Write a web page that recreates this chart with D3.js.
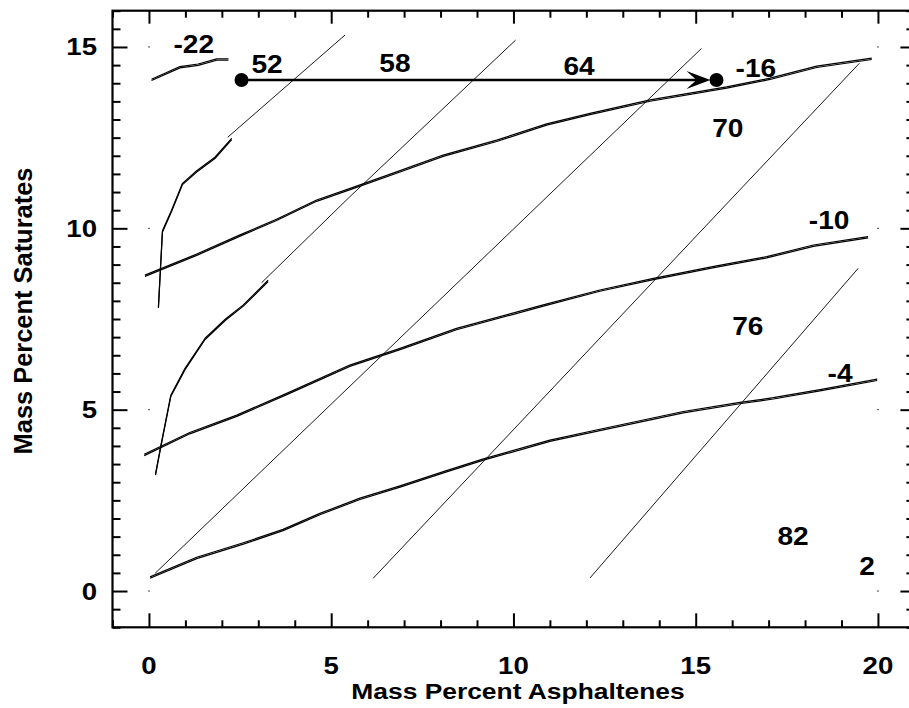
<!DOCTYPE html>
<html>
<head>
<meta charset="utf-8">
<script src="https://cdnjs.cloudflare.com/ajax/libs/d3/7.8.5/d3.min.js"></script>
<style>
  body { margin: 0; background: #fff; }
  text { font-family: "Liberation Sans", Arial, sans-serif; font-weight: bold; fill: #000; }
</style>
</head>
<body>
<script>

// curves, [asphaltenes, saturates]
var curveM22 = [[0.07,14.11],[0.85,14.46],[1.35,14.53],[1.86,14.67],[2.18,14.67]];
var curveM16 = [[-0.11,8.71],[1.31,9.29],[2.5,9.82],[3.5,10.25],[4.6,10.78],[5.6,11.13],[6.89,11.59],
                [8.07,12.02],[9.54,12.43],[10.91,12.88],[12.1,13.17],[13.75,13.54],[15.85,13.9],
                [17.04,14.14],[18.32,14.47],[19.83,14.69]];
var curveM10 = [[-0.13,3.77],[1.12,4.37],[2.41,4.85],[3.78,5.45],[5.51,6.23],[6.89,6.69],[8.44,7.24],
                [10.82,7.89],[12.37,8.3],[13.84,8.62],[15.5,8.95],[16.95,9.22],[18.23,9.54],[19.73,9.77]];
var curveM4 = [[0.03,0.39],[1.31,0.93],[2.59,1.33],[3.68,1.7],[4.69,2.14],[5.79,2.56],[6.89,2.9],
               [8.1,3.3],[9.2,3.65],[11.0,4.16],[12.37,4.46],[14.66,4.95],[16.21,5.2],[17.13,5.33],
               [18.45,5.56],[19.98,5.84]];
var steepUpper = [[0.26,7.84],[0.37,9.93],[0.62,10.5],[0.92,11.24],[1.31,11.59],[1.81,11.96],[2.27,12.48]];
var steepLower = [[0.18,3.23],[0.33,4.03],[0.6,5.4],[0.99,6.14],[1.54,6.97],[2.1,7.5],[2.59,7.89],[3.27,8.57]];

// straight iso lines, start and end
var isoLines = [
  [[2.16,12.51],[5.38,15.33]],
  [[3.09,8.5],[5.51,10.87],[10.06,15.19]],
  [[0.17,0.49],[15.16,14.96]],
  [[6.15,0.35],[19.49,14.55]],
  [[12.1,0.36],[19.46,8.9]]
];

// arrow between the two dots
var arrowFrom = [2.54,14.09];
var arrowTo = [15.57,14.09];

var labels = ['-22','52','58','64','-16','70','-10','76','-4','82','2'];
var labelX = [1.23,3.24,6.75,11.8,16.65,15.88,18.66,16.43,18.96,17.67,19.7];
var labelY = [14.83,14.28,14.31,14.23,14.17,12.52,9.98,7.06,5.76,1.27,0.44];

var xTicks = [0,5,10,15,20];
var yTicks = [0,5,10,15];

var W = 909, H = 708;
var svg = d3.select('body').append('svg')
            .attr('width', W)
            .attr('height', H);

var xScale = d3.scaleLinear().domain([-1,21]).range([112.5, 914.4]);
var yScale = d3.scaleLinear().domain([-1,16]).range([627.3, 10.7]);

var line = d3.line()
             .x(function(d) { return xScale(d[0]); })
             .y(function(d) { return yScale(d[1]); });

var plot = svg.append('g');

// thin iso lines
plot.selectAll('.iso')
    .data(isoLines)
    .enter()
    .append('path')
    .attr('class', 'iso')
    .attr('d', line)
    .attr('fill', 'none')
    .attr('stroke', '#000')
    .attr('stroke-width', 0.9);

// the curves are drawn doubled, like in the original
var curves = [curveM22, curveM16, curveM10, curveM4, steepUpper, steepLower];
[0, 1.3].forEach(function(off) {
  plot.append('g')
      .attr('transform', 'translate(0,' + off + ')')
      .selectAll('path')
      .data(curves)
      .enter()
      .append('path')
      .attr('d', line)
      .attr('fill', 'none')
      .attr('stroke', '#000')
      .attr('stroke-width', 1.2)
      .attr('stroke-linejoin', 'round');
});

// arrow
var ax0 = xScale(arrowFrom[0]), ax1 = xScale(arrowTo[0]), ay = yScale(arrowFrom[1]);
plot.append('line')
    .attr('x1', ax0).attr('y1', ay)
    .attr('x2', ax1 - 20).attr('y2', ay)
    .attr('stroke', '#000')
    .attr('stroke-width', 2.5);
plot.append('path')
    .attr('d', 'M' + (ax1 - 6) + ',' + ay +
               'L' + (ax1 - 30) + ',' + (ay - 9) +
               'L' + (ax1 - 20) + ',' + ay +
               'L' + (ax1 - 30) + ',' + (ay + 9) + 'Z')
    .attr('fill', '#000');
plot.selectAll('.dot')
    .data([arrowFrom, arrowTo])
    .enter()
    .append('circle')
    .attr('class', 'dot')
    .attr('cx', function(d) { return xScale(d[0]); })
    .attr('cy', function(d) { return yScale(d[1]); })
    .attr('r', 7)
    .attr('fill', '#000');

// region / temperature labels
plot.selectAll('.lab')
    .data(labels)
    .enter()
    .append('text')
    .attr('class', 'lab')
    .attr('text-anchor', 'middle')
    .attr('font-size', 26)
    .attr('transform', function(d, i) {
      return 'translate(' + xScale(labelX[i]) + ',' + yScale(labelY[i]) + ')scale(1.08,1)';
    })
    .text(function(d) { return d; });

// little grid dots at the major intersections
var gridPts = [];
[0,20].forEach(function(x) { yTicks.forEach(function(y) { gridPts.push([x,y]); }); });
plot.selectAll('.gdot')
    .data(gridPts)
    .enter()
    .append('rect')
    .attr('class', 'gdot')
    .attr('x', function(d) { return xScale(d[0]) - 1; })
    .attr('y', function(d) { return yScale(d[1]) - 0.5; })
    .attr('width', 2)
    .attr('height', 1)
    .attr('fill', '#444');

// axes, ticks pointing inward on all four sides
var x0 = xScale.range()[0], x1 = xScale.range()[1];
var y0 = yScale.range()[0], y1 = yScale.range()[1];

function drawAxis(axis, pos, minor) {
  var g = svg.append('g')
             .attr('transform', pos)
             .call(axis);
  g.select('.domain').remove();
  g.selectAll('.tick line').attr('stroke', '#000').attr('stroke-width', 2);
  if (minor) g.selectAll('text').remove();
  return g;
}

var xMinor = d3.range(-1, 22, 1).filter(function(v) { return xTicks.indexOf(v) < 0; });
var yMinor = d3.range(-1, 16.01, 0.5).filter(function(v) { return yTicks.indexOf(v) < 0; });

drawAxis(d3.axisTop(xScale).tickValues(xMinor).tickSize(7), 'translate(0,' + y0 + ')', true);
drawAxis(d3.axisTop(xScale).tickValues(xTicks).tickSize(14), 'translate(0,' + y0 + ')', true);
drawAxis(d3.axisBottom(xScale).tickValues(xMinor).tickSize(7), 'translate(0,' + y1 + ')', true);
drawAxis(d3.axisBottom(xScale).tickValues(xTicks).tickSize(13), 'translate(0,' + y1 + ')', true);
drawAxis(d3.axisRight(yScale).tickValues(yMinor).tickSize(8), 'translate(' + x0 + ',0)', true);
drawAxis(d3.axisRight(yScale).tickValues(yTicks).tickSize(15), 'translate(' + x0 + ',0)', true);
drawAxis(d3.axisLeft(yScale).tickValues(yMinor).tickSize(8), 'translate(' + x1 + ',0)', true);
drawAxis(d3.axisLeft(yScale).tickValues(yTicks).tickSize(14), 'translate(' + x1 + ',0)', true);

svg.append('rect')
   .attr('x', x0).attr('y', y1)
   .attr('width', x1 - x0).attr('height', y0 - y1)
   .attr('fill', 'none')
   .attr('stroke', '#000')
   .attr('stroke-width', 2.2);

// tick labels
svg.selectAll('.xlab')
   .data(xTicks)
   .enter()
   .append('text')
   .attr('class', 'xlab')
   .attr('text-anchor', 'middle')
   .attr('font-size', 23)
   .attr('transform', function(d) { return 'translate(' + xScale(d) + ',674)scale(1.2,1)'; })
   .text(function(d) { return d; });

svg.selectAll('.ylab')
   .data(yTicks)
   .enter()
   .append('text')
   .attr('class', 'ylab')
   .attr('text-anchor', 'end')
   .attr('font-size', 23)
   .attr('transform', function(d) { return 'translate(97,' + (yScale(d) + 8.5) + ')scale(1.2,1)'; })
   .text(function(d) { return d; });

// axis titles
svg.append('text')
   .attr('text-anchor', 'middle')
   .attr('font-size', 22)
   .attr('transform', 'translate(518,699)scale(1.2,1)')
   .text('Mass Percent Asphaltenes');
svg.append('text')
   .attr('text-anchor', 'middle')
   .attr('font-size', 24)
   .attr('transform', 'translate(32,311)rotate(-90)scale(1.06,1.1)')
   .text('Mass Percent Saturates');

</script>
</body>
</html>
